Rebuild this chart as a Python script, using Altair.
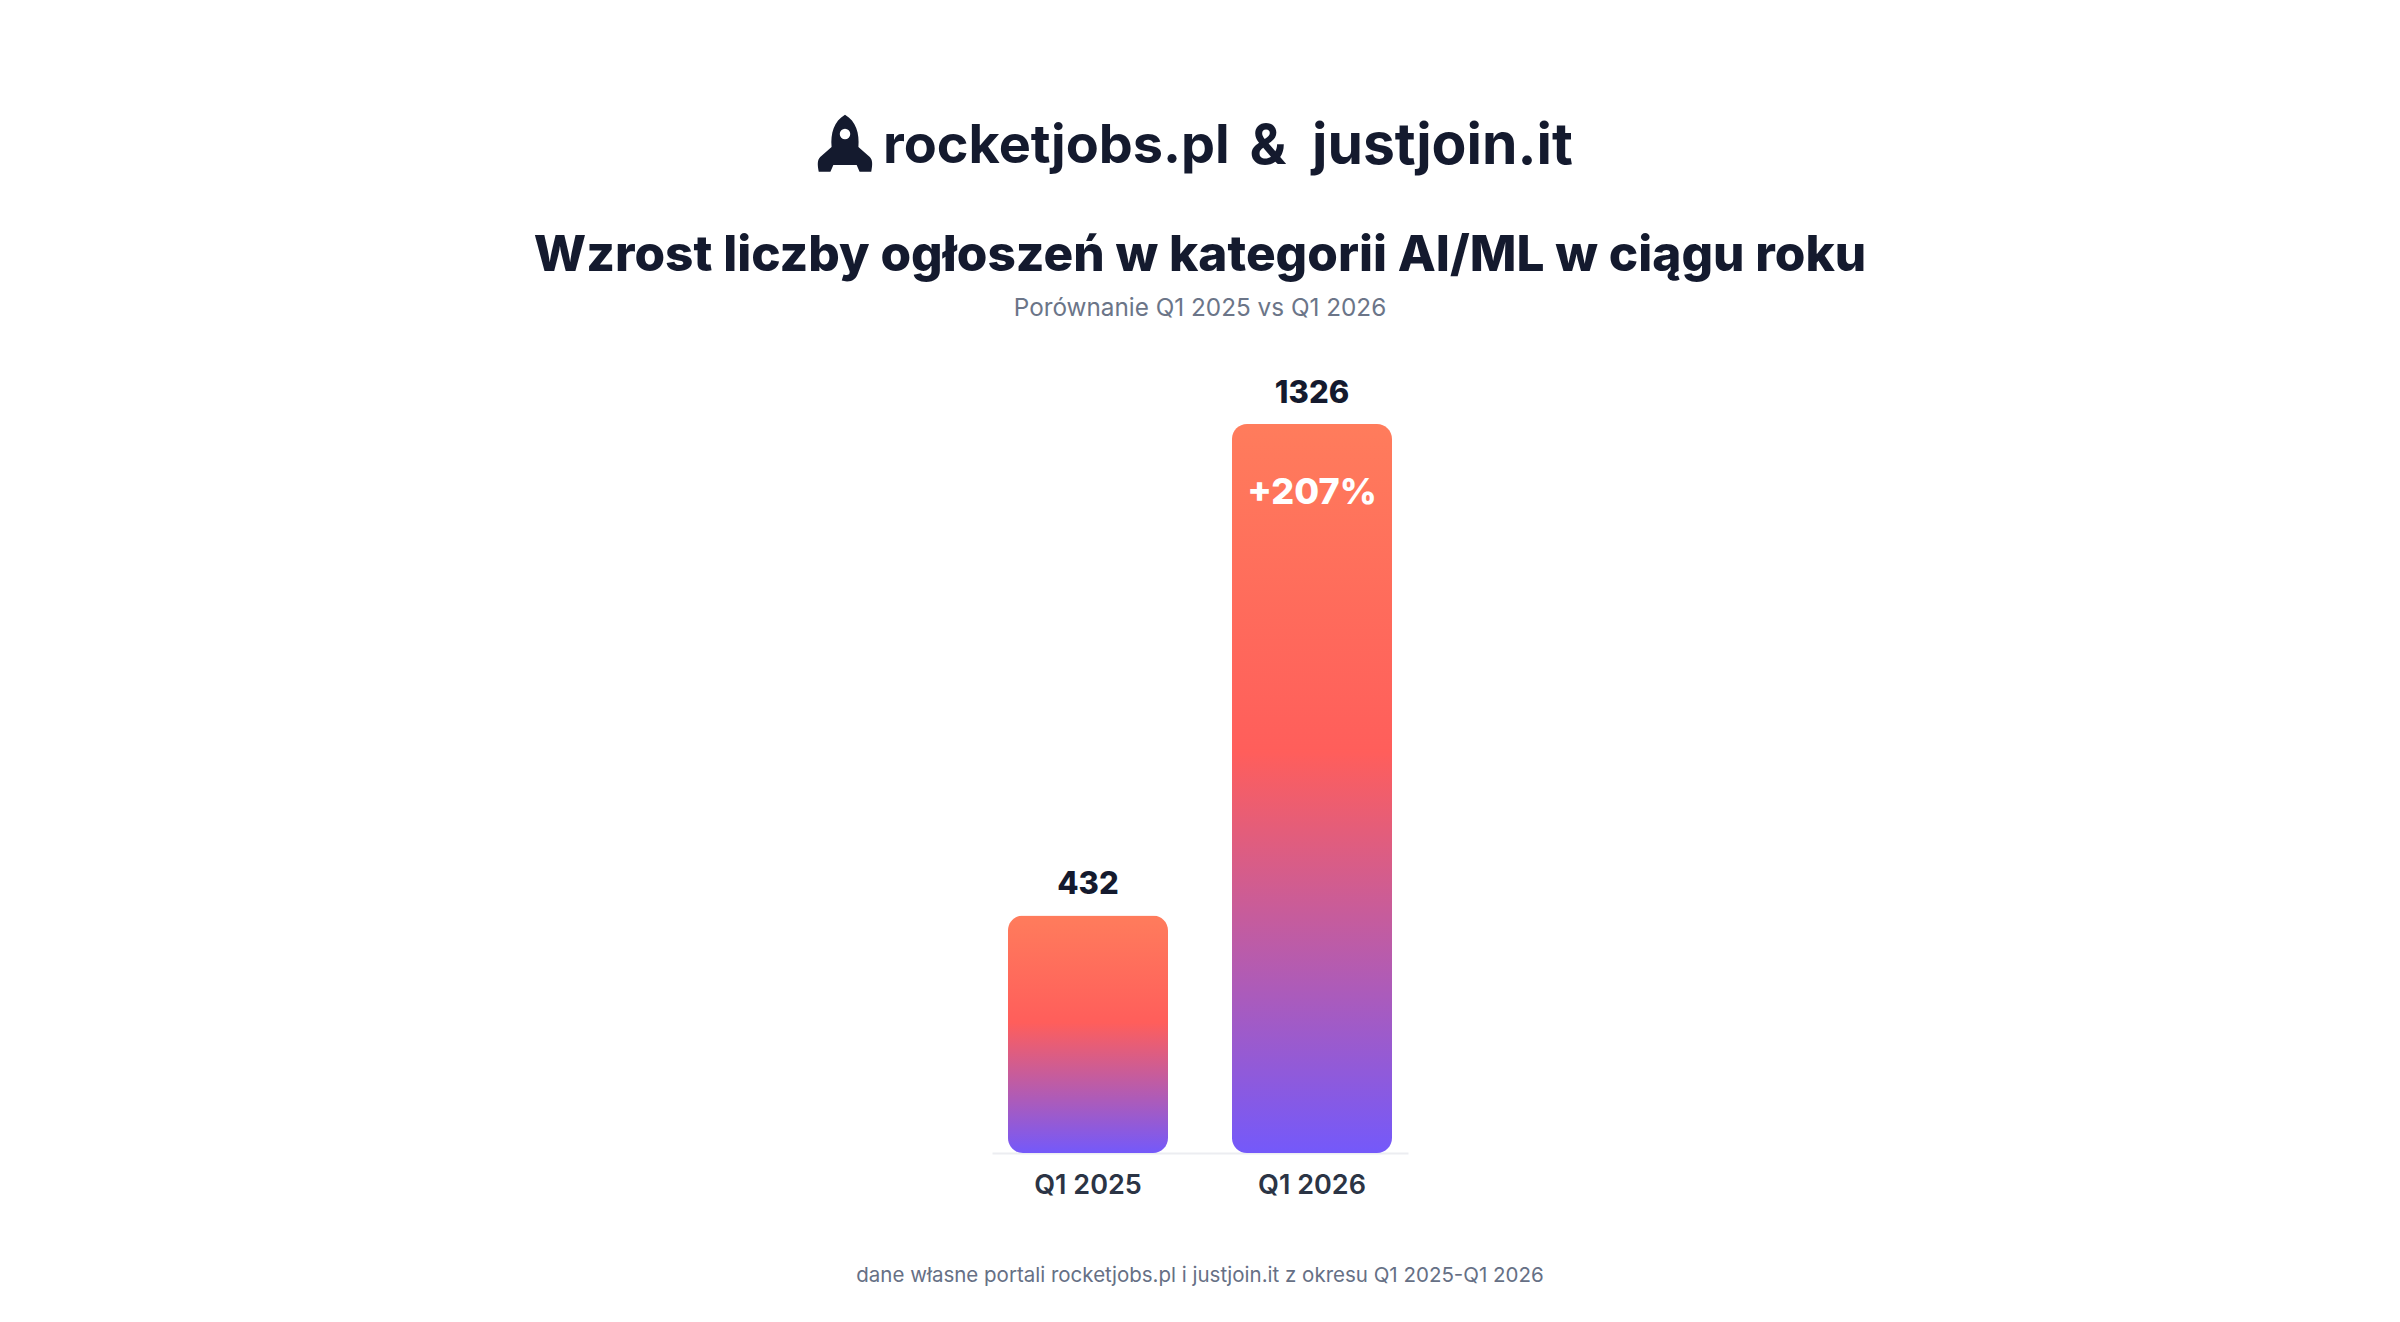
import altair as alt
import pandas as pd

quarters = ["Q1 2025", "Q1 2026"]
offers = [432, 1326]
change_labels = ["", "+207%"]

logo_left = ["rocketjobs.pl"]
logo_amp = ["&"]
logo_right = ["justjoin.it"]
title_text = ["Wzrost liczby ogłoszeń w kategorii AI/ML w ciągu roku"]
subtitle_text = ["Porównanie Q1 2025 vs Q1 2026"]
footer_text = ["dane własne portali rocketjobs.pl i justjoin.it z okresu Q1 2025-Q1 2026"]

FONT = "Inter"
DARK = "#141A2E"

df = pd.DataFrame({"quarter": quarters, "offers": offers, "change": change_labels})

gradient = alt.Gradient(
    gradient="linear",
    stops=[
        alt.GradientStop(color="#FF7C5C", offset=0),
        alt.GradientStop(color="#FF5E5B", offset=0.45),
        alt.GradientStop(color="#7459FA", offset=1),
    ],
    x1=0, x2=0, y1=0, y2=1,
)

x = alt.X(
    "quarter:N",
    sort=quarters,
    scale=alt.Scale(paddingInner=0.2857, paddingOuter=0.0714),
    axis=alt.Axis(
        title=None, labelAngle=0, ticks=False, domainColor="#ECEDF1", domainWidth=2,
        labelFont=FONT, labelFontSize=27, labelFontWeight=600, labelColor="#2B3445",
        labelPadding=19,
    ),
)
y = alt.Y("offers:Q", scale=alt.Scale(domain=[0, max(offers)], nice=False, zero=True), axis=None)

base = alt.Chart(df)
bars = base.mark_bar(cornerRadius=15, color=gradient).encode(x=x, y=y)
values = base.mark_text(dy=-30, font=FONT, fontSize=31, fontWeight=800, color=DARK, baseline="middle").encode(
    x=x, y=y, text="offers:Q")
pct = base.mark_text(dy=69, font=FONT, fontSize=36, fontWeight=800, color="white", baseline="middle").encode(
    x=x, y=y, text="change:N")


def label(texts, xv, yv, size, weight, color, align="center"):
    return alt.Chart(pd.DataFrame({"t": texts})).mark_text(
        font=FONT, fontSize=size, fontWeight=weight, color=color, align=align, baseline="middle"
    ).encode(x=alt.value(xv), y=alt.value(yv), text="t:N")


rocket_path = (
    "M0,-1 C0.38,-0.78 0.5,-0.35 0.46,0.1 L0.85,0.45 C0.95,0.55 0.95,0.7 0.9,0.95 "
    "L0.5,0.95 L0.4,0.72 L-0.4,0.72 L-0.5,0.95 L-0.9,0.95 C-0.95,0.7 -0.95,0.55 -0.85,0.45 "
    "L-0.46,0.1 C-0.5,-0.35 -0.38,-0.78 0,-1 Z"
)
icon = alt.Chart(pd.DataFrame({"t": [1]})).mark_point(
    shape=rocket_path, filled=True, color=DARK, opacity=1, size=3400
).encode(x=alt.value(-147), y=alt.value(-280))
window = alt.Chart(pd.DataFrame({"t": [1]})).mark_point(
    shape="circle", filled=True, color="white", opacity=1, size=110
).encode(x=alt.value(-147), y=alt.value(-290))

logo1 = label(logo_left, -109, -277, 54, 700, DARK, align="left")
logo2 = label(logo_amp, 276, -277, 55, 700, DARK)
logo3 = label(logo_right, 320, -277, 57, 700, DARK, align="left")
title = label(title_text, 208, -168, 49.5, 800, DARK)
subtitle = label(subtitle_text, 208, -115, 24.3, 400, "#6B7588")
footer = label(footer_text, 208, 852, 20.5, 400, "#667085")

chart = alt.layer(
    bars, values, pct, icon, window, logo1, logo2, logo3, title, subtitle, footer
).properties(
    width=416,
    height=729,
    autosize=alt.AutoSizeParams(type="none"),
    padding={"left": 992, "top": 424, "right": 992, "bottom": 169},
    background="white",
).configure_view(stroke=None)

chart.save("out.html", embed_options={"renderer": "svg", "actions": False})
